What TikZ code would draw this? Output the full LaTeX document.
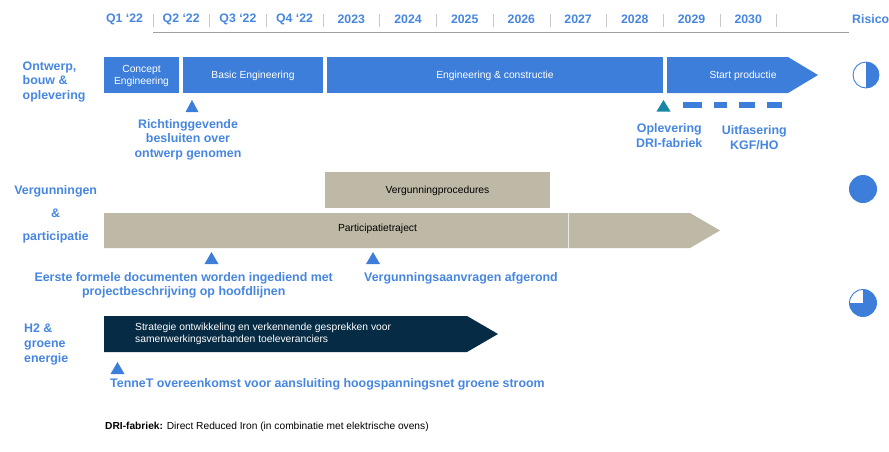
\documentclass[tikz,border=0pt]{standalone}
\usepackage{fontspec}
\setmainfont{Liberation Sans}
\definecolor{boxblue}{RGB}{60,126,218}
\definecolor{txtblue}{RGB}{70,134,225}
\definecolor{teal}{RGB}{24,134,166}
\definecolor{tan}{RGB}{190,184,166}
\definecolor{navy}{RGB}{6,43,68}
\definecolor{hdrline}{RGB}{160,160,160}
\definecolor{sepline}{RGB}{200,200,200}
\tikzset{
  hdr/.style={font=\fontsize{12.3}{14}\selectfont\bfseries, text=txtblue, inner sep=0pt},
  lbl/.style={font=\fontsize{12.4}{14.5}\selectfont\bfseries, text=txtblue, inner sep=0pt},
  boxtxt/.style={font=\fontsize{10.3}{11.5}\selectfont, inner sep=0pt, align=center},
  tri/.style={fill=boxblue},
  bluebox/.style={fill=boxblue},
}
\begin{document}
\begin{tikzpicture}[x=1pt,y=-1pt]
\useasboundingbox (0,0) rectangle (889,451);
% header
\foreach \t [count=\k from 0] in {Q1 ‘22,Q2 ‘22,Q3 ‘22,Q4 ‘22,2023,2024,2025,2026,2027,2028,2029,2030}{
  \node[hdr] (h\k) at ({124.5+56.7*\k},19.5) {\t};
}
\foreach \k in {0,...,11}{
  \coordinate (sa\k) at ({153+56.7*\k},14);
  \coordinate (sb\k) at ({153+56.7*\k},27);
  \draw[sepline, line width=0.8pt] (sa\k) -- (sb\k);
}
\coordinate (hl1) at (153,32);
\coordinate (hl2) at (849,32);
\draw[hdrline, line width=1pt] (hl1) -- (hl2);
\node[hdr, anchor=west] (risico) at (852,19.5) {Risico};
% row 1
\node[lbl, anchor=west, align=left] (l1) at (22.5,81.5) {Ontwerp,\\bouw \&\\oplevering};
\fill[bluebox] (104,57) rectangle (179,93);
\node[boxtxt, text=white] (ce) at (141.5,76) {Concept\\Engineering};
\fill[bluebox] (183,57) rectangle (323,93);
\node[boxtxt, text=white] (be) at (253,75.5) {Basic Engineering};
\fill[bluebox] (327,57) rectangle (663,93);
\node[boxtxt, text=white] (ec) at (495,75.5) {Engineering \& constructie};
\fill[bluebox] (667,57) -- (788,57) -- (818,75) -- (788,93) -- (667,93) -- cycle;
\node[boxtxt, text=white] (sp) at (743,75.5) {Start productie};
\fill[tri] (185.5,112) -- (198.5,112) -- (192,100) -- cycle;
\node[lbl, align=center] (m1) at (188,139.5) {Richtinggevende\\besluiten over\\ontwerp genomen};
\fill[teal] (656.5,111.5) -- (670.5,111.5) -- (663.5,100) -- cycle;
\node[lbl, align=center] (m2) at (669.3,135.5) {Oplevering\\DRI-fabriek};
\foreach \a/\b in {683/702,714/727,739/755,767/782}{
  \fill[boxblue] (\a,101.5) rectangle (\b,107.5);
}
\node[lbl, align=center, font=\fontsize{12.4}{15}\selectfont\bfseries] (m3) at (754.3,137.5) {Uitfasering\\KGF/HO};
\begin{scope}[shift={(866,75)}, x=1pt, y=1pt]
  \fill[white] (0,0) circle[radius=13];
  \fill[boxblue] (0,13) arc[start angle=90, end angle=-90, radius=13] -- cycle;
  \draw[boxblue, line width=0.9pt] (0,0) circle[radius=13];
\end{scope}
% row 2
\node[lbl, align=center, font=\fontsize{12.4}{23}\selectfont\bfseries] (l2) at (55.7,214) {Vergunningen\\\&\\participatie};
\fill[tan] (325,172) rectangle (550,208);
\node[boxtxt] (vp) at (437.5,190.5) {Vergunningprocedures};
\fill[tan] (104,213) -- (690,213) -- (720,230.5) -- (690,248) -- (104,248) -- cycle;
\coordinate (dv1) at (568,213);
\coordinate (dv2) at (568,248);
\draw[white!70!tan, line width=0.6pt] (dv1) -- (dv2);
\node[boxtxt] (pt) at (377.5,229) {Participatietraject};
\fill[tri] (204.5,264) -- (218.5,264) -- (211.5,252) -- cycle;
\fill[tri] (366,264) -- (380,264) -- (373,252) -- cycle;
\node[lbl, align=center] (m4) at (183.7,285.5) {Eerste formele documenten worden ingediend met\\projectbeschrijving op hoofdlijnen};
\node[lbl, anchor=west] (m5) at (364,278) {Vergunningsaanvragen afgerond};
\fill[boxblue] (863,189) circle[radius=14];
\begin{scope}[shift={(863,303)}, x=1pt, y=1pt]
  \fill[white] (0,0) circle[radius=13.5];
  \fill[boxblue] (0,0) -- (0,13.5) arc[start angle=90, end angle=-180, radius=13.5] -- cycle;
  \draw[boxblue, line width=0.9pt] (0,0) circle[radius=13.5];
\end{scope}
% row 3
\node[lbl, anchor=west, align=left, font=\fontsize{12.4}{15}\selectfont\bfseries] (l3) at (24,344) {H2 \&\\groene\\energie};
\fill[navy] (104,316) -- (467,316) -- (498,334) -- (467,352) -- (104,352) -- cycle;
\node[boxtxt, text=white, anchor=west, align=left, font=\fontsize{10.3}{12}\selectfont] (st) at (135,334) {Strategie ontwikkeling en verkennende gesprekken voor\\samenwerkingsverbanden toeleveranciers};
\fill[tri] (110.5,374) -- (124.5,374) -- (117.5,362) -- cycle;
\node[lbl, anchor=west] (m6) at (110,384) {TenneT overeenkomst voor aansluiting hoogspanningsnet groene stroom};
% footnote
\node[anchor=west, inner sep=0pt, font=\fontsize{10.2}{12}\selectfont] (fn) at (105,426.5) {\textbf{DRI-fabriek:} Direct Reduced Iron (in combinatie met elektrische ovens)};
\end{tikzpicture}
\end{document}
